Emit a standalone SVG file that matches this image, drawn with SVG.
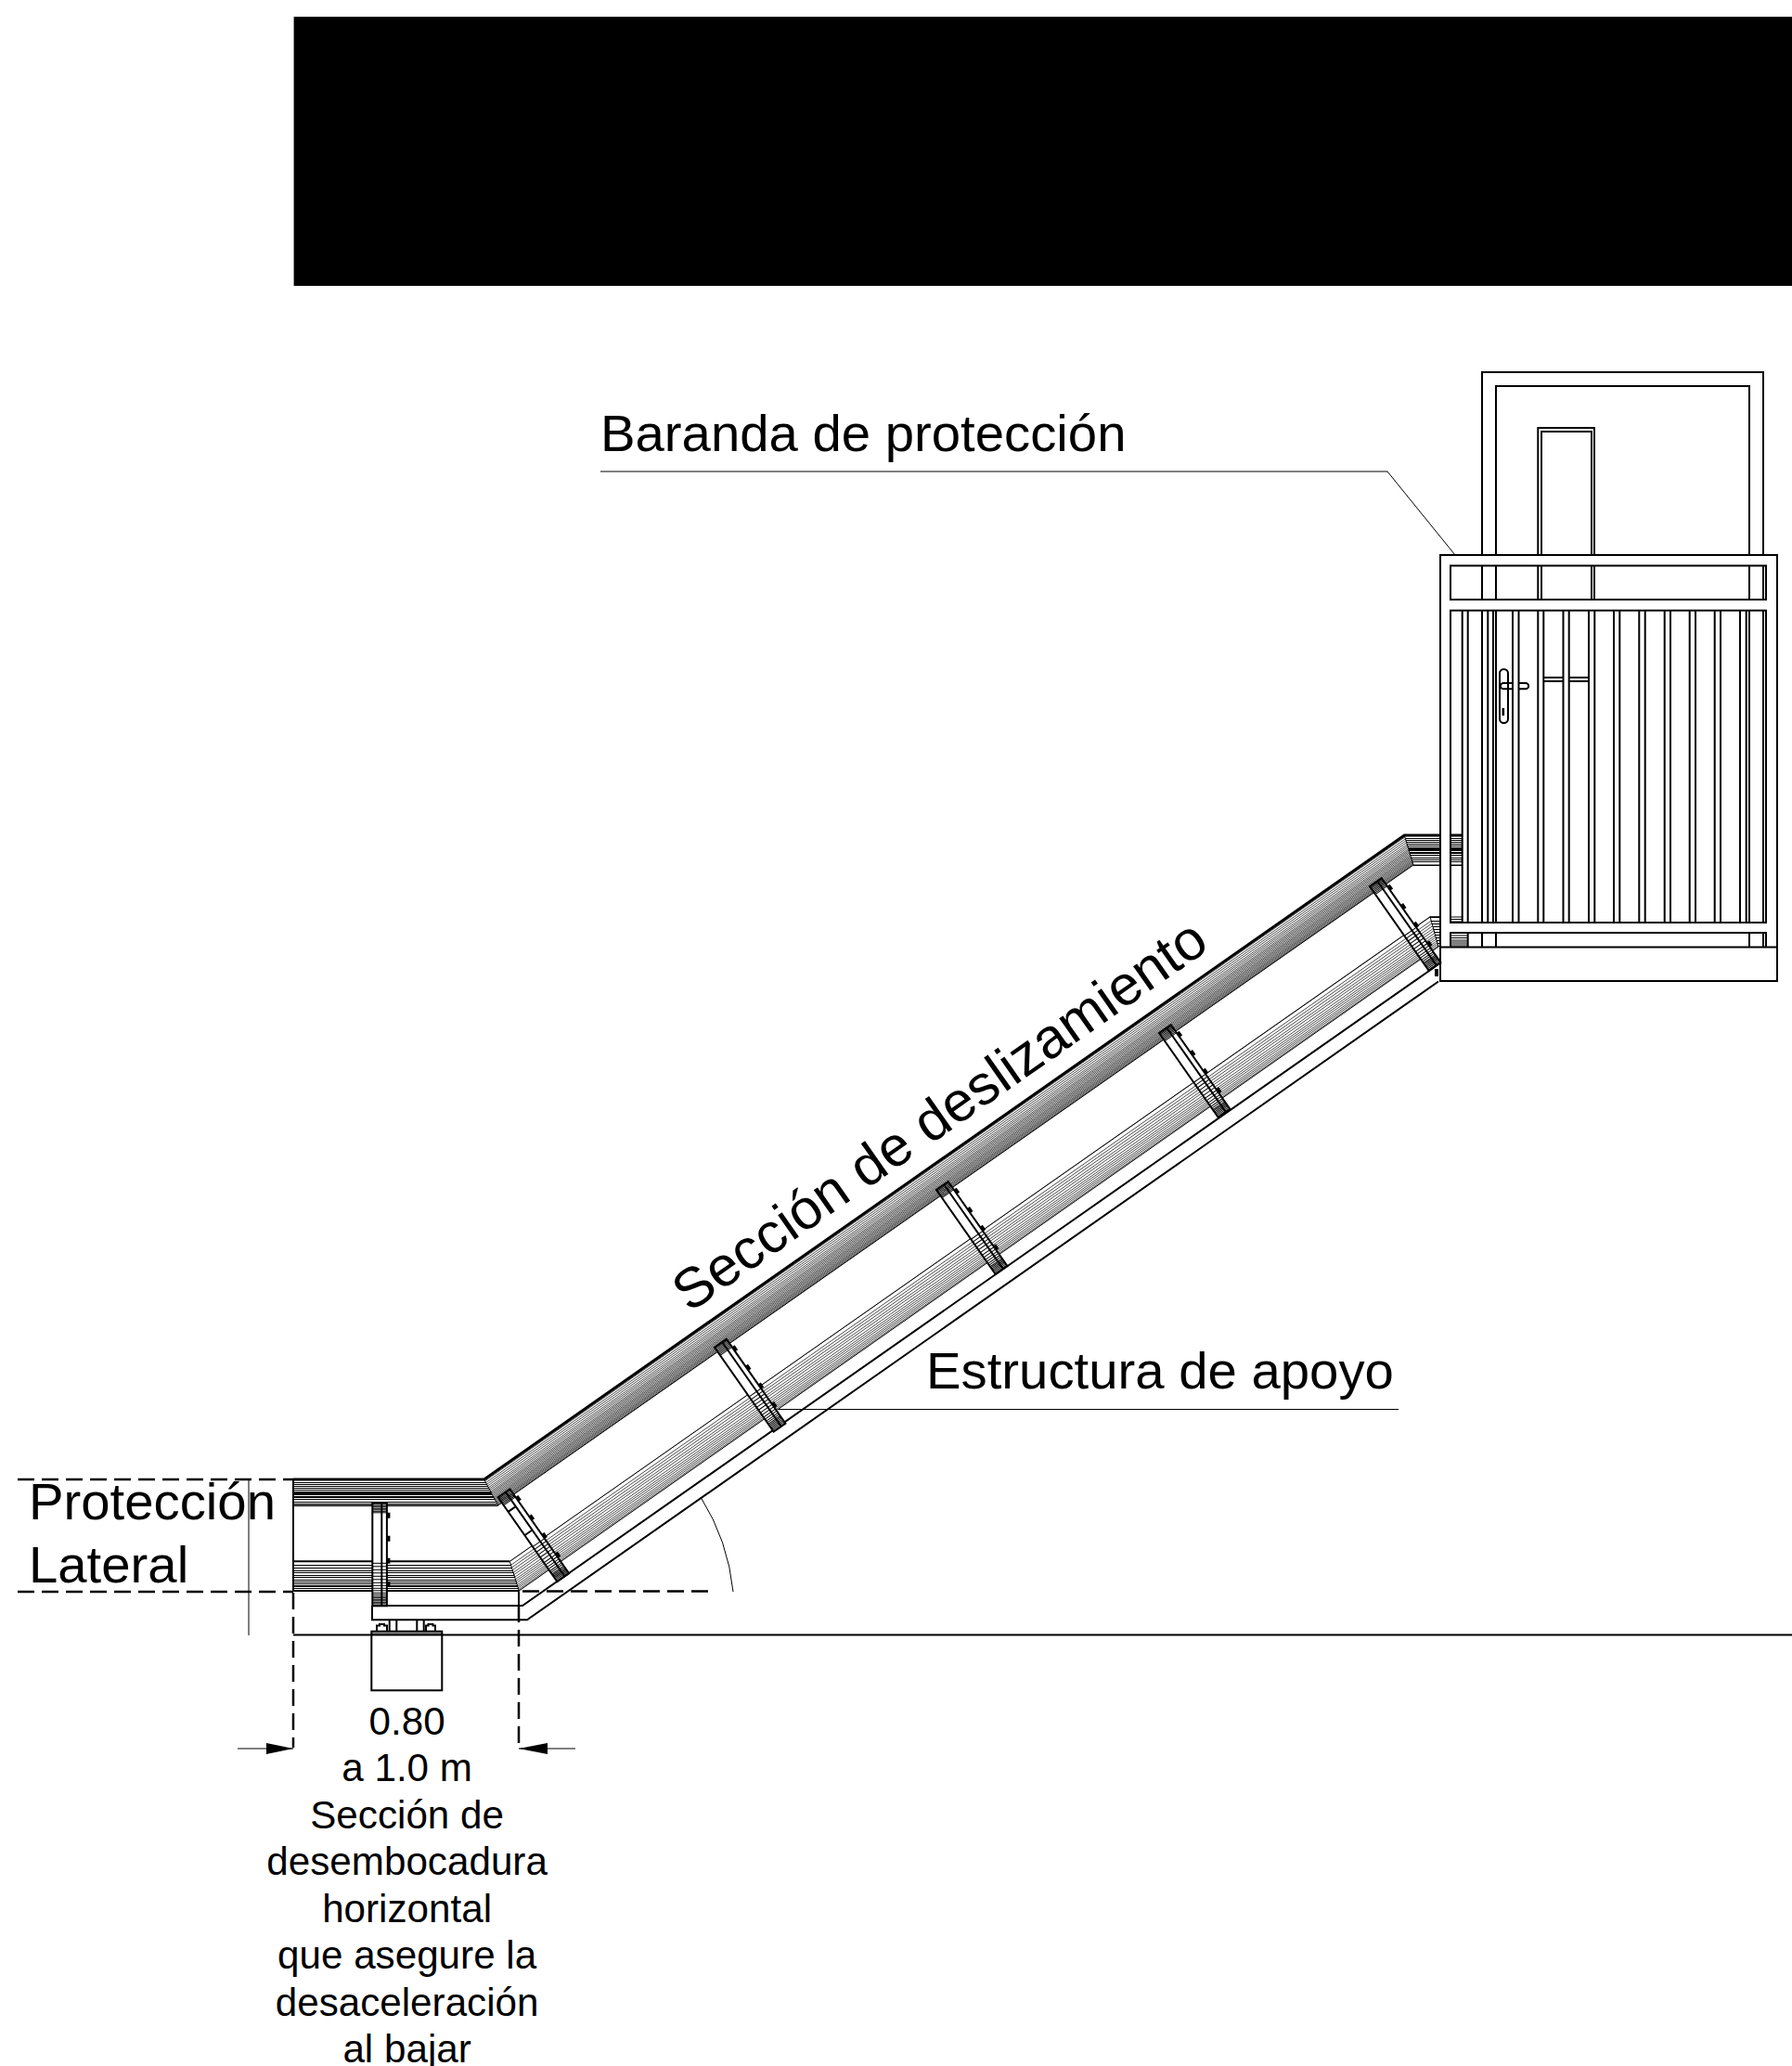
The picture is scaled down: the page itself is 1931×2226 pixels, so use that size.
<svg xmlns="http://www.w3.org/2000/svg" width="1931" height="2226" viewBox="0 0 1931 2226">
<style>
text{font-family:"Liberation Sans",Arial,sans-serif;fill:#000}
.big{font-size:56.3px}
.mid{font-size:42.2px;text-anchor:middle}
.l{fill:none;stroke:#000;stroke-width:2}
.t{fill:none;stroke:#000;stroke-width:1}
.f{fill:none;stroke:#000;stroke-width:.7}
.h{fill:none;stroke:#000;stroke-width:3}
.d{fill:none;stroke:#000;stroke-width:2.5;stroke-dasharray:18 8}
</style>
<defs>
<clipPath id="topSlope"><polygon points="521.7,1593 1513.3,899 1523,932 536.7,1622"/></clipPath>
<clipPath id="lowSlope"><polygon points="549.3,1682.3 1541,987.7 1550,1020 559.3,1714"/></clipPath>
<clipPath id="topFlat"><polygon points="316,1593 521.7,1593 536.7,1623 316,1623"/><polygon points="1513.3,899 1552,899 1552,933 1523,933"/><rect x="1563" y="899" width="12" height="34"/></clipPath>
<clipPath id="lowFlat"><polygon points="316,1681 549.3,1681 559.3,1715 316,1715"/><polygon points="1541,987 1552,987 1552,1021 1550,1021"/></clipPath>
<g id="post">
<rect x="0" y="0" width="15.6" height="111" fill="#fff" stroke="#000" stroke-width="2"/>
<path class="l" d="M10 0V111"/>
<path class="t" d="M0 1.5H15.6M0 3H15.6M0 4.5H15.6M0 6H15.6M0 7.5H15.6M0 9H15.6M0 10.5H15.6M0 65H15.6M0 68.5H15.6M0 72H15.6M0 75.5H15.6M0 79H15.6M0 82.5H15.6M0 86H15.6M0 89H15.6M0 92H15.6M0 94.5H15.6M0 97H15.6M0 99H15.6M0 101H15.6M0 102.5H15.6M0 104H15.6M0 105.5H15.6M0 107H15.6M0 108.5H15.6M0 110H15.6"/>
<path d="M15.6 10.5h3.5v6h-3.5zM15.6 35.5h3.5v6h-3.5zM15.6 59.5h3.5v6h-3.5zM15.6 84.5h3.5v6h-3.5z" fill="#000"/>
</g>
</defs>
<rect id="title-block" x="316.6" y="18" width="1614.4" height="290" fill="#000"/>
<g id="slide-rails">
<g clip-path="url(#topSlope)"><path class="f" d="M500 1609.2l1040-728M500 1611.6l1040-728M500 1614l1040-728M500 1616.4l1040-728M500 1618.8l1040-728M500 1621.2l1040-728M500 1623.2l1040-728M500 1625.2l1040-728M500 1627.2l1040-728M500 1628.8l1040-728M500 1630.4l1040-728M500 1632l1040-728M500 1633.6l1040-728M500 1635.2l1040-728M500 1636.6l1040-728M500 1638l1040-728M500 1639.4l1040-728M500 1640.8l1040-728M500 1642.2l1040-728M500 1643.4l1040-728M500 1644.6l1040-728M500 1645.8l1040-728M500 1647l1040-728M500 1647.9l1040-728"/></g>
<g clip-path="url(#lowSlope)"><path class="f" d="M500 1716.8l1060-742M500 1721.7l1060-742M500 1725l1060-742M500 1728.2l1060-742M500 1731.5l1060-742M500 1734.3l1060-742M500 1737.6l1060-742M500 1740.4l1060-742M500 1742.8l1060-742M500 1745.2l1060-742M500 1747.7l1060-742M500 1749.8l1060-742M500 1751.8l1060-742M500 1753.8l1060-742M500 1755.5l1060-742"/></g>
<g clip-path="url(#topFlat)" shape-rendering="crispEdges"><path class="t" d="M300 1594H600M300 1597H600M300 1599H600M300 1601H600M300 1603H600M300 1605H600M300 1607H600M300 1608H600M300 1609H600M300 1610H600M300 1612H600M300 1613H600M300 1615H600M300 1618H600M300 1620H600M300 1622H600M1500 900H1580M1500 903H1580M1500 905H1580M1500 907H1580M1500 909H1580M1500 911H1580M1500 913H1580M1500 914H1580M1500 915H1580M1500 916H1580M1500 918H1580M1500 919H1580M1500 921H1580M1500 924H1580M1500 926H1580M1500 928H1580M1500 932H1580"/></g>
<g clip-path="url(#lowFlat)" shape-rendering="crispEdges"><path class="t" d="M300 1682H600M300 1686H600M300 1689H600M300 1692H600M300 1694H600M300 1697H600M300 1699H600M300 1702H600M300 1704H600M300 1706H600M300 1708H600M300 1709H600M300 1711H600M300 1713H600M300 1714H600M1530 988H1560M1530 992H1560M1530 995H1560M1530 998H1560M1530 1001H1560M1530 1004H1560M1530 1007H1560M1530 1010H1560M1530 1013H1560M1530 1016H1560M1530 1019H1560"/></g>
<path class="h" d="M316 1594H521.7L1513.3 900H1552M1563 900H1575"/>
<path class="t" d="M521.7 1594L536.7 1622L1523 932M1513.3 900L1523 932H1552M1563 932H1575M316 1622H536.7"/>
<path class="t" d="M549.3 1682.3L559.3 1714M1541 987.7L1550 1020M549.3 1682.3L1541 987.7H1552M559.3 1714L1550 1020"/>
<path class="l" d="M316 1682.3H549.3M316 1714H559.3M316 1594V1714"/>
</g>
<g id="support-structure">
<path class="l" d="M401 1730H563L1550 1039M401 1730V1745.3H568L1550 1057.5"/>
<rect x="1546" y="1044" width="4" height="8" fill="#000"/>
<path class="l" d="M419.7 1745V1757.7M427.3 1745V1757.7M449.3 1745V1757.7M456.7 1745V1757.7"/>
<path class="l" d="M406 1757.7V1751.5H409V1750H414V1751.5H417V1757.7M459 1757.7V1751.5H461.5V1750H466.5V1751.5H469V1757.7"/>
</g>
<g id="pier"><rect x="400.3" y="1757.7" width="76" height="63.6" fill="#fff" stroke="#000" stroke-width="2"/><path class="t" d="M400.3 1760H476.3"/></g>
<g id="posts">
<use href="#post" transform="translate(401.3 1619.3)"/>
<g transform="translate(536.7 1613.3) rotate(-35)"><use href="#post"/><path class="l" d="M0 19H10M0 50H10"/></g>
<use href="#post" transform="translate(770 1451.7) rotate(-35)"/>
<use href="#post" transform="translate(1009 1282) rotate(-35)"/>
<use href="#post" transform="translate(1249 1113) rotate(-35)"/>
<use href="#post" transform="translate(1476 955) rotate(-35)"/>
</g>
<path id="ground" class="l" d="M316 1761.5H1931"/>
<g id="door-behind">
<path class="l" d="M1597 598V401H1900V598M1612 598V416H1885V598M1657.3 598V461H1718V598M1661 598V465H1715V598"/>
<path class="l" d="M1597 609.5V646M1612 609.5V646M1657.3 609.5V646M1661 609.5V646M1715 609.5V646M1718 609.5V646M1885 609.5V646M1900 609.5V646"/>
<path class="l" d="M1597 1005V1020.6M1612 1005V1020.6M1885 1005V1020.6M1900 1005V1020.6M1581.7 1005V1020.6"/>
<path class="t" d="M1563 1008H1581M1563 1010.5H1581M1563 1013H1581M1563 1015H1581M1563 1017H1581M1563 1019H1581M1563 988H1575M1563 990.5H1575M1563 993H1575"/>
<path class="l" d="M1663.3 730H1685M1663.3 734H1685M1691 730H1711.7M1691 734H1711.7"/>
</g>
<g id="railing">
<path class="l" d="M1552 598H1915V1057H1552ZM1552 1020.6H1915"/>
<path class="l" d="M1563 609.5H1903V646H1563ZM1563 657.7H1903V994H1563ZM1563 1020.6V1005H1903V1020.6"/>
<path class="l" d="M1575.7 657.7V994M1581.7 657.7V994M1597 657.7V994M1603.3 657.7V994M1609 657.7V994M1612 657.7V994M1630 657.7V994M1636.5 657.7V994M1657.3 657.7V994M1663.3 657.7V994M1684.5 657.7V994M1690.7 657.7V994M1712 657.7V994M1718.3 657.7V994M1739 657.7V994M1745.3 657.7V994M1766.3 657.7V994M1772.7 657.7V994M1793.7 657.7V994M1800 657.7V994M1820.7 657.7V994M1827 657.7V994M1847.7 657.7V994M1854 657.7V994M1875 657.7V994M1881.7 657.7V994M1885 657.7V994M1900 657.7V994"/>
</g>
<g id="door-handle">
<rect x="1616" y="721" width="9" height="58" rx="4.5" fill="#fff" stroke="#000" stroke-width="2"/>
<path class="l" d="M1630 742.3H1620A3 3 0 0 1 1620 736H1630M1636.5 736H1644A3.1 3.1 0 0 1 1644 742.3H1636.5"/>
<rect x="1618.5" y="763" width="2.6" height="8" fill="#000"/>
</g>
<g id="dimensions">
<path class="d" d="M19 1594H316M19 1715H316M563 1714.5H767"/>
<path class="l" d="M559 1714.5V1730"/>
<path class="d" d="M316 1716V1883M559 1730V1883"/>
<path class="t" d="M268 1593V1762M256 1884H316M559 1884H620"/>
<polygon points="287,1878 316,1884 287,1890" fill="#000"/>
<polygon points="590,1878 559,1884 590,1890" fill="#000"/>
<path class="t" d="M755 1613A235 235 0 0 1 790 1715"/>
</g>
<g id="leaders">
<path class="t" d="M647 508H1495L1568 598M839 1518.5H1507"/>
</g>
<g id="labels">
<text class="big" x="647" y="485.5">Baranda de protección</text>
<text x="743" y="1415" font-size="60.5" transform="rotate(-35 743 1415)">Sección de deslizamiento</text>
<text class="big" x="998" y="1496">Estructura de apoyo</text>
<text class="big" x="31" y="1637">Protección</text>
<text class="big" x="31" y="1705">Lateral</text>
<text class="mid" x="438.6" y="1868.5">0.80</text>
<text class="mid" x="438.6" y="1919">a 1.0 m</text>
<text class="mid" x="438.6" y="1969.5">Sección de</text>
<text class="mid" x="438.6" y="2020">desembocadura</text>
<text class="mid" x="438.6" y="2070.5">horizontal</text>
<text class="mid" x="438.6" y="2121">que asegure la</text>
<text class="mid" x="438.6" y="2171.5">desaceleración</text>
<text class="mid" x="438.6" y="2222">al bajar</text>
</g>
</svg>
